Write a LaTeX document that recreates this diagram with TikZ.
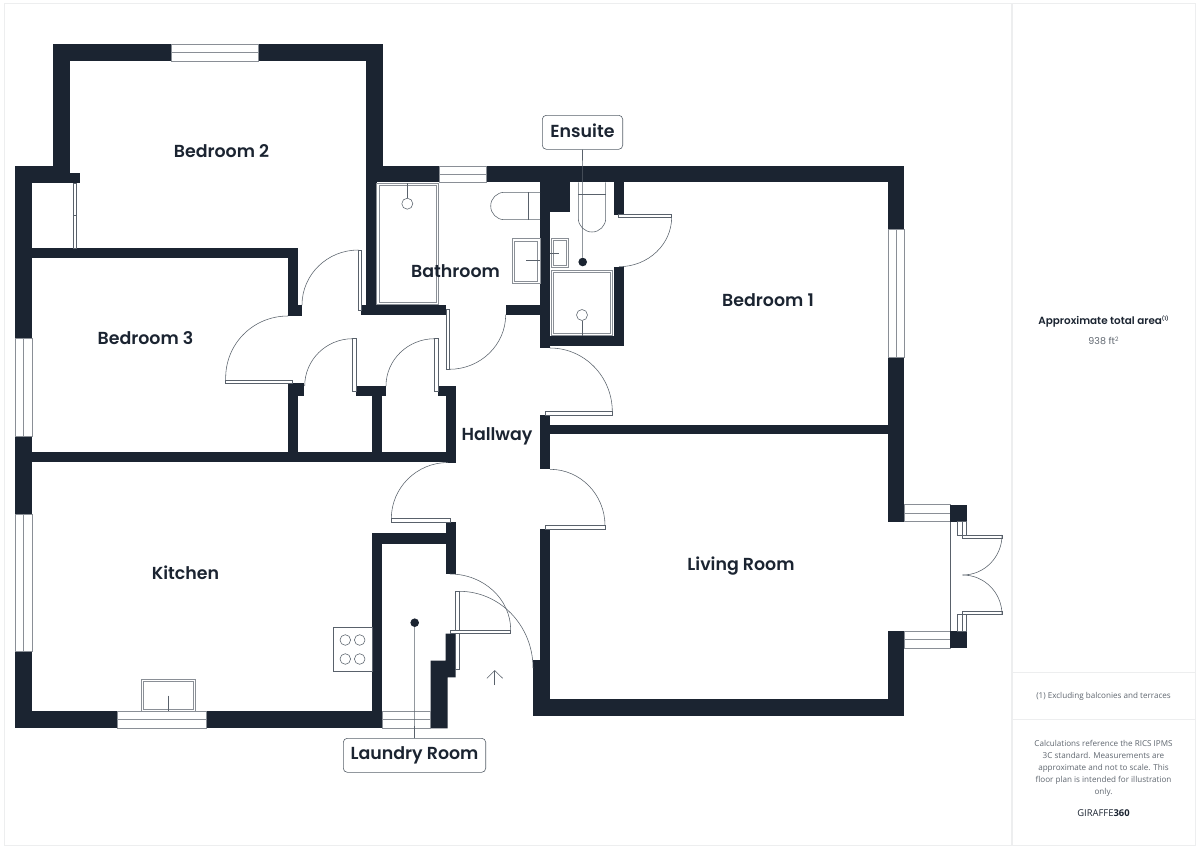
\documentclass[tikz,border=0pt]{standalone}
\usepackage{fontspec}
\setmainfont{Open Sans}
\newfontfamily\labfont{Poppins SemiBold}
\newfontfamily\popfont{Poppins}
\newfontfamily\notefont{Open Sans}
\definecolor{wallc}{HTML}{1B2431}
\definecolor{linec}{HTML}{59616B}
\definecolor{fixc}{HTML}{8A8F96}
\definecolor{framec}{HTML}{EDEEEF}
\definecolor{notec}{HTML}{5F666F}
\tikzset{
  wallfill/.style={fill=wallc,draw=none},
  fine/.style={draw=linec,line width=0.55pt},
  winline/.style={draw=fixc,line width=0.7pt},
  fixture/.style={draw=fixc,line width=0.8pt},
  leaf/.style={draw=linec,line width=0.55pt,fill=white},
  panelrule/.style={draw=framec,line width=1.2pt},
  roomlab/.style={font=\labfont\fontsize{17.4}{20}\selectfont,text=wallc,inner sep=0pt,anchor=base},
  tagbox/.style={draw=linec,line width=0.6pt,rounded corners=4pt,fill=white,inner sep=0pt,minimum height=34pt},
  dotmark/.style={circle,fill=wallc,inner sep=0pt,minimum size=8.6pt},
  notelab/.style={font=\notefont\fontsize{8.1}{12}\selectfont,text=notec,inner sep=0pt,align=center}
}
\newcommand\wallr[4]{\fill[wallfill] (#1,#2) rectangle (#3,#4);}
\newcommand\winh[4]{\fill[white] (#1,#2) rectangle (#3,#4);
  \draw[winline] (#1,#2) rectangle (#3,#4);
  \pgfmathsetmacro\midw{(#2+#4)/2}\draw[winline] (#1,\midw) -- (#3,\midw);}
\newcommand\winv[4]{\fill[white] (#1,#2) rectangle (#3,#4);
  \draw[winline] (#1,#2) rectangle (#3,#4);
  \pgfmathsetmacro\midw{(#1+#3)/2}\draw[winline] (\midw,#2) -- (\midw,#4);}
\newcommand\dbl[5]{\draw[fixture] (#1,#2) rectangle (#3,#4);
  \pgfmathsetmacro\qa{#1+#5}\pgfmathsetmacro\qb{#2+#5}\pgfmathsetmacro\qc{#3-#5}\pgfmathsetmacro\qd{#4-#5}
  \draw[fixture] (\qa,\qb) rectangle (\qc,\qd);}
\newcommand\qarc[6]{%
  \pgfmathsetmacro\pa{#1+0.5523*(#5-#3)}\pgfmathsetmacro\pb{#2+0.5523*(#6-#4)}
  \pgfmathsetmacro\pc{#5+0.5523*(#1-#3)}\pgfmathsetmacro\pd{#6+0.5523*(#2-#4)}
  \draw[fine] (#1,#2) .. controls (\pa,\pb) and (\pc,\pd) .. (#5,#6);}
\newcommand\leafr[4]{\draw[leaf] (#1,#2) rectangle (#3,#4);}
\begin{document}
\begin{tikzpicture}[x=1pt,y=-1pt]
\useasboundingbox (0,0) rectangle (1200,849);
\fill[white] (0,0) rectangle (1200,849);
% frame
\draw[panelrule] (4.5,3.5) rectangle (1195.5,845.5);
\draw[panelrule] (1012,3.5) -- (1012,845.5);
\draw[panelrule] (1012,672.7) -- (1195.5,672.7);
\draw[panelrule] (1012,719.3) -- (1195.5,719.3);
% outer walls
\wallr{53.3}{44}{382.7}{61}
\wallr{53.3}{44}{70.3}{172.7}
\wallr{366}{44}{382.7}{182.3}
\wallr{15}{166}{70.3}{183}
\wallr{53.3}{172.7}{80.3}{183}
\wallr{15}{166}{32}{728.3}
\wallr{366}{165.7}{904}{182.3}
\wallr{887.5}{165.7}{904}{521.7}
\wallr{887.5}{631.3}{904}{716}
\wallr{533}{699}{904}{716}
\wallr{533}{660}{550.3}{716}
\wallr{540}{529}{550.3}{716}
\wallr{15}{711.3}{382.3}{728.3}
% inner walls
\wallr{32}{248.3}{297.7}{258.3}
\wallr{287.7}{248.3}{297.7}{315.5}
\wallr{287.7}{305}{301.7}{315.5}
\wallr{366}{182}{376.5}{315}
\wallr{361.3}{305}{446}{314.7}
\wallr{505.7}{305}{540}{314.7}
\wallr{540}{182}{550.3}{347.7}
\wallr{540}{182}{570.3}{212.3}
\wallr{614}{182}{624}{214.7}
\wallr{614}{266.7}{624}{346}
\wallr{540}{336}{624}{346}
\wallr{287.7}{383.3}{297.7}{452}
\wallr{287.7}{383.3}{304}{396.3}
\wallr{356}{386.3}{386}{396.3}
\wallr{372}{386.3}{382.3}{452}
\wallr{445.7}{386}{455.7}{462.5}
\wallr{438.3}{386}{455.7}{396.3}
\wallr{32}{451.7}{455.7}{462}
\wallr{540}{415}{550.3}{469.3}
\wallr{550}{424.7}{888}{434.3}
\wallr{445.7}{522.3}{455.7}{574}
\wallr{372}{533.3}{455.7}{543.7}
\wallr{372}{533.3}{382.3}{728.3}
\fill[wallfill] (430.7,728.3) -- (447.7,728.3) -- (447.7,677.3) -- (455.7,677.3) -- (455.7,633.7) -- (445.7,633.7) -- (445.7,660.7) -- (430.7,660.7) -- cycle;
% windows
\winh{171}{44.3}{258}{61}
\winh{439.3}{166}{486.7}{182.3}
\winv{888}{229}{904}{357}
\winv{15.3}{338}{32}{436}
\winv{15.3}{514}{32}{651.7}
\winh{117.3}{711.3}{206.7}{728.3}
\winh{382.3}{711.3}{430.7}{728.3}
\winh{904}{504.7}{950}{521.7}
\winh{904}{631.3}{950}{648}
% sliding door
\draw[fine] (73.3,183) rectangle (76.3,248.3);
\draw[fine] (73.3,215) -- (76.3,215);
% doors
\qarc{358.3}{250}{358.3}{305}{302}{305}
\leafr{358.3}{250}{361.5}{310}
\qarc{225.7}{380}{290}{380}{288}{316}
\leafr{225.7}{380}{292.7}{383.2}
\qarc{352.7}{338.7}{352.7}{386}{304.7}{386}
\leafr{352.7}{338.7}{355.8}{391.7}
\qarc{434.7}{338.7}{434.7}{386}{386}{386}
\leafr{434.7}{338.7}{437.8}{391}
\qarc{449.3}{369.3}{449.3}{314.7}{505.7}{314.7}
\leafr{446}{309.3}{449.3}{369.3}
\qarc{612.3}{411.7}{550}{411.7}{550}{348}
\leafr{545.7}{411.7}{612.3}{415}
\qarc{605}{525.7}{550}{525.7}{550}{469.3}
\leafr{545.7}{525.7}{605}{529}
\qarc{391.3}{518.7}{448}{518.7}{448}{462.5}
\leafr{391}{518.7}{450.7}{522}
\qarc{671.7}{217}{619}{217}{619}{266.7}
\leafr{618.7}{214.7}{671.7}{217.3}
\qarc{459.3}{591.3}{459.3}{668}{533}{668}
\leafr{455.7}{591.3}{459.3}{669.3}
\qarc{510.7}{630}{450}{630}{450}{574}
\leafr{450.7}{630}{510.7}{633.7}
% entrance arrow
\coordinate (arrowtail) at (494.7,685);
\coordinate (arrowtip) at (494.7,670.5);
\draw[fine] (arrowtail) -- (arrowtip);
\draw[fine] (486.9,678.3) -- (arrowtip) -- (502.7,678.3);
% french doors
\fill[wallfill] (950,504.7) rectangle (966.7,521.7);
\fill[wallfill] (950,631.3) rectangle (966.7,648);
\draw[fine] (950,521.7) -- (950,631.3);
\draw[fine] (957.7,521.7) rectangle (966.7,535);
\draw[fine] (962.3,521.7) -- (962.3,535);
\draw[fine] (957.7,614.7) rectangle (966.7,631.3);
\draw[fine] (962.3,614.7) -- (962.3,631.3);
\leafr{962.3}{535}{1002}{538.3}
\leafr{962.3}{611.3}{1002}{614.7}
\qarc{1002}{535}{962.7}{535}{962.7}{575}
\qarc{1002}{614.7}{962.7}{614.7}{962.7}{575}
% bathroom fixtures
\dbl{376.7}{183.3}{438.3}{304.3}{2.2}
\draw[fine] (407.3,183.3) -- (407.3,198.2);
\draw[fine] (407.3,203.7) circle[radius=5.5pt];
\draw[fine] (540,192.3) -- (504.4,192.3) .. controls (496.8,192.3) and (490.7,198.4) .. (490.7,206) .. controls (490.7,213.6) and (496.8,219.7) .. (504.4,219.7) -- (540,219.7);
\draw[fine] (528.7,192.3) -- (528.7,219.7);
\dbl{512}{238.7}{540}{283.3}{2.4}
\draw[fine] (526,260.7) -- (540,260.7);
% ensuite fixtures
\dbl{551}{238}{568.7}{267.7}{2.2}
\draw[fine] (550.3,253) -- (559.3,253);
\dbl{551}{270.3}{612.7}{335.7}{2.2}
\draw[fine] (582,315) circle[radius=5.5pt];
\draw[fine] (582,320.5) -- (582,336);
\draw[fine] (578.3,182.3) -- (578.3,218.3) .. controls (578.3,225.9) and (584.4,232) .. (592,232) .. controls (599.6,232) and (605.7,225.9) .. (605.7,218.3) -- (605.7,182.3);
\draw[fine] (578.3,194.3) -- (605.7,194.3);
% kitchen fixtures
\dbl{141.3}{679}{195.3}{711.3}{2.4}
\draw[fine] (168.3,695.7) -- (168.3,711.3);
\draw[fine] (333.3,627.3) rectangle (372,671.3);
\draw[fine] (345.3,640) circle[radius=5.3pt];
\draw[fine] (359.7,640) circle[radius=5.3pt];
\draw[fine] (345.3,659) circle[radius=5.3pt];
\draw[fine] (359.7,659) circle[radius=5.3pt];
% room labels
\node[roomlab] (bed2) at (221.5,157) {Bedroom 2};
\node[roomlab] (bath) at (455.5,277) {Bathroom};
\node[roomlab] (bed1) at (768,306.5) {Bedroom 1};
\node[roomlab] (bed3) at (145.5,344.5) {Bedroom 3};
\node[roomlab] (hall) at (497,440) {Hallway};
\node[roomlab] (kitch) at (185.5,579.3) {Kitchen};
\node[roomlab] (living) at (741,570.5) {Living Room};
% tags
\node[dotmark] (ensdot) at (582.7,262) {};
\node[dotmark] (launddot) at (414.7,622.7) {};
\node[tagbox,minimum width=80.4pt] (ens) at (582.5,132.3) {};
\node[tagbox,minimum width=142.4pt] (laund) at (414.5,755.3) {};
\node[roomlab] (enstext) at (582.5,137.5) {Ensuite};
\node[roomlab] (laundtext) at (414.5,759.3) {Laundry Room};
\draw[fine] (ens.south) -- (ensdot);
\draw[fine] (launddot) -- (laund.north);
% side panel
\node[inner sep=0pt,text=wallc,font=\labfont\fontsize{10.4}{12}\selectfont] (areat) at (1103.5,321.5) {Approximate total area\raisebox{3.5pt}{\fontsize{5}{6}\selectfont(1)}};
\node[inner sep=0pt,text=notec,font=\popfont\fontsize{9.5}{12}\selectfont] (areav) at (1103.5,341) {938 ft\raisebox{3pt}{\fontsize{6}{6}\selectfont 2}};
\node[notelab] (excl) at (1103.5,696.5) {(1) Excluding balconies and terraces};
\node[notelab] (calc) at (1103.5,768.2) {Calculations reference the RICS IPMS\\3C standard. Measurements are\\approximate and not to scale. This\\floor plan is intended for illustration\\only.};
\node[inner sep=0pt,text=wallc,font=\notefont\fontsize{9.4}{12}\selectfont] (logo) at (1103.5,813.5) {GIRAFFE{\bfseries 360}};
\end{tikzpicture}
\end{document}
